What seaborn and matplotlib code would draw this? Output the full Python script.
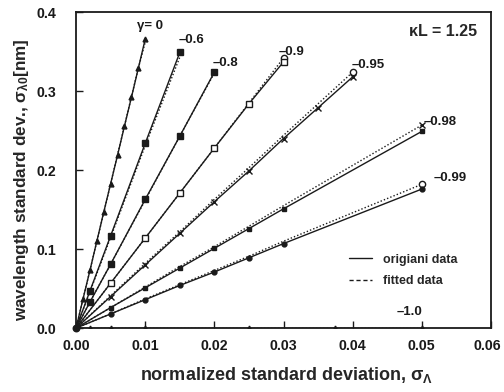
import numpy as np
import pandas as pd
import matplotlib
matplotlib.use("Agg")
import matplotlib.pyplot as plt
import matplotlib.transforms as mtransforms
from matplotlib.lines import Line2D
import seaborn as sns

# ---- data -------------------------------------------------------------
gammas = ["0", "-0.6", "-0.8", "-0.9", "-0.95", "-0.98", "-0.99", "-1.0"]

x_g0 = [0, 0.001, 0.002, 0.003, 0.004, 0.005, 0.006, 0.007, 0.008, 0.009, 0.010]
orig_g0 = [0, 0.037, 0.073, 0.110, 0.147, 0.183, 0.219, 0.256, 0.292, 0.329, 0.366]
fit_g0 = [0, 0.037, 0.073, 0.110, 0.146, 0.183, 0.220, 0.256, 0.293, 0.329, 0.362]

x_g06 = [0, 0.002, 0.005, 0.010, 0.015]
orig_g06 = [0, 0.047, 0.117, 0.234, 0.349]
fit_g06 = [0, 0.046, 0.115, 0.231, 0.343]

x_g08 = [0, 0.002, 0.005, 0.010, 0.015, 0.020]
orig_g08 = [0, 0.033, 0.081, 0.163, 0.243, 0.324]
fit_g08 = [0, 0.033, 0.081, 0.162, 0.243, 0.323]

x_g09 = [0, 0.005, 0.010, 0.015, 0.020, 0.025, 0.030]
orig_g09 = [0, 0.057, 0.114, 0.171, 0.228, 0.284, 0.337]
fit_g09 = [0, 0.057, 0.114, 0.171, 0.228, 0.285, 0.342]

x_g095 = [0, 0.005, 0.010, 0.015, 0.020, 0.025, 0.030, 0.035, 0.040]
orig_g095 = [0, 0.040, 0.080, 0.120, 0.160, 0.199, 0.240, 0.279, 0.318]
fit_g095 = [0, 0.041, 0.082, 0.122, 0.163, 0.203, 0.244, 0.284, 0.324]

x_g098 = [0, 0.005, 0.010, 0.015, 0.020, 0.025, 0.030, 0.050]
orig_g098 = [0, 0.026, 0.051, 0.076, 0.101, 0.126, 0.151, 0.249]
fit_g098 = [0, 0.026, 0.052, 0.078, 0.103, 0.129, 0.155, 0.257]

x_g099 = [0, 0.005, 0.010, 0.015, 0.020, 0.025, 0.030, 0.050]
orig_g099 = [0, 0.018, 0.036, 0.054, 0.071, 0.089, 0.107, 0.176]
fit_g099 = [0, 0.018, 0.037, 0.055, 0.073, 0.091, 0.110, 0.182]

x_g10 = [0, 0.002, 0.005, 0.010, 0.025, 0.0375, 0.050]
orig_g10 = [0, 0, 0, 0, 0, 0, 0]
fit_g10 = [0, 0, 0, 0, 0, 0, 0]

x_ticks = [0.00, 0.01, 0.02, 0.03, 0.04, 0.05, 0.06]
y_ticks = [0.0, 0.1, 0.2, 0.3, 0.4]

series = [
    ("γ= 0", x_g0, orig_g0, fit_g0),
    ("–0.6", x_g06, orig_g06, fit_g06),
    ("–0.8", x_g08, orig_g08, fit_g08),
    ("–0.9", x_g09, orig_g09, fit_g09),
    ("–0.95", x_g095, orig_g095, fit_g095),
    ("–0.98", x_g098, orig_g098, fit_g098),
    ("–0.99", x_g099, orig_g099, fit_g099),
    ("–1.0", x_g10, orig_g10, fit_g10),
]

# ---- styling per curve ------------------------------------------------
orig_markers = ["^", "s", "s", "s", "x", "s", "o", "^"]
orig_faces = ["k", "k", "k", "w", "k", "k", "k", "k"]
orig_msize = [3.5, 4, 4, 4, 5, 3.5, 3.5, 3.5]
fit_end_markers = [None, None, None, "o", "o", "x", "o", None]
label_offsets = [(-8, 13), (-1, 12), (-2, 9), (-5, 10), (-1, 12), (2, 9), (12, 11), (-25, 16)]

sns.set_theme(style="white")
plt.rcParams["font.family"] = ["Liberation Sans", "DejaVu Sans"]
plt.rcParams["font.weight"] = "bold"
plt.rcParams["mathtext.fontset"] = "custom"
plt.rcParams["mathtext.rm"] = "Liberation Sans:bold"
plt.rcParams["mathtext.it"] = "Liberation Sans:bold"
plt.rcParams["mathtext.bf"] = "Liberation Sans:bold"

fig = plt.figure(figsize=(5.04, 3.92), dpi=100)
ax = fig.add_axes([0.151, 0.163, 0.823, 0.806])

for i, (name, xs, yo, yf) in enumerate(series):
    df = pd.DataFrame({"x": xs, "orig": yo, "fit": yf})
    sns.lineplot(data=df, x="x", y="fit", ax=ax, color="k", lw=1.0,
                 linestyle=(0, (1, 1.5)), sort=False, estimator=None)
    if fit_end_markers[i] is not None:
        ax.lines[-1].set_marker(fit_end_markers[i])
        ax.lines[-1].set_markevery([len(xs) - 1])
        ax.lines[-1].set_markersize(4.5)
        ax.lines[-1].set_markerfacecolor("w")
        ax.lines[-1].set_markeredgecolor("k")
        ax.lines[-1].set_markeredgewidth(1.0)
    sns.lineplot(data=df, x="x", y="orig", ax=ax, color="k", lw=1.0,
                 marker=orig_markers[i], markersize=orig_msize[i],
                 markerfacecolor=orig_faces[i], markeredgecolor="k",
                 markeredgewidth=1.0, sort=False, estimator=None)
    dx, dy = label_offsets[i]
    ax.annotate(name, xy=(xs[-1], yo[-1]), xytext=(dx, dy),
                textcoords="offset pixels", ha="left", va="center",
                fontsize=9.5, fontweight="bold", color="k")

# origin dot shared by all curves
ax.scatter([x_g0[0]], [orig_g0[0]], s=22, color="k", zorder=5, clip_on=False)

ax.set_xlim(0, 0.06)
ax.set_ylim(0, 0.4)
ax.set_xticks(x_ticks)
ax.set_xticklabels([f"{v:.2f}" for v in x_ticks])
ax.set_yticks(y_ticks)
ax.set_yticklabels([f"{v:.1f}" for v in y_ticks])
ax.tick_params(axis="both", direction="in", length=5, width=1.0, colors="k",
               labelsize=10.2, bottom=True, left=True, top=False, right=False)
ax.tick_params(axis="x", pad=8)
ax.tick_params(axis="y", pad=14)
for lab in ax.get_xticklabels() + ax.get_yticklabels():
    lab.set_fontweight("bold")
# keep the last x tick label inside the figure edge
last = ax.get_xticklabels()[-1]
last.set_transform(last.get_transform() +
                   mtransforms.ScaledTranslation(-4 / 100, 0, fig.dpi_scale_trans))
for sp in ax.spines.values():
    sp.set_color("k")
    sp.set_linewidth(1.3)

ax.set_xlabel(r"normalized standard deviation, $\sigma_{\Lambda}$",
              fontsize=13, fontweight="bold")
ax.set_ylabel(r"wavelength standard dev., $\sigma_{\lambda0}$[nm]",
              fontsize=12.3, fontweight="bold")
ax.xaxis.set_label_coords(0.507, -0.118)
ax.yaxis.set_label_coords(-0.108, 0.47)

ax.text(0.966, 0.94, "κL = 1.25", transform=ax.transAxes, ha="right",
        va="center", fontsize=11.5, fontweight="bold")

handles = [Line2D([], [], color="k", lw=1.0),
           Line2D([], [], color="k", lw=1.0, linestyle=(0, (3, 2)))]
ax.legend(handles, ["origiani data", "fitted data"], loc="upper left",
          bbox_to_anchor=(0.659, 0.235), frameon=False,
          borderpad=0, borderaxespad=0, handlelength=1.8,
          handletextpad=0.9, labelspacing=0.75, prop={"weight": "bold", "size": 9})

fig.savefig("out.png", dpi=100)
